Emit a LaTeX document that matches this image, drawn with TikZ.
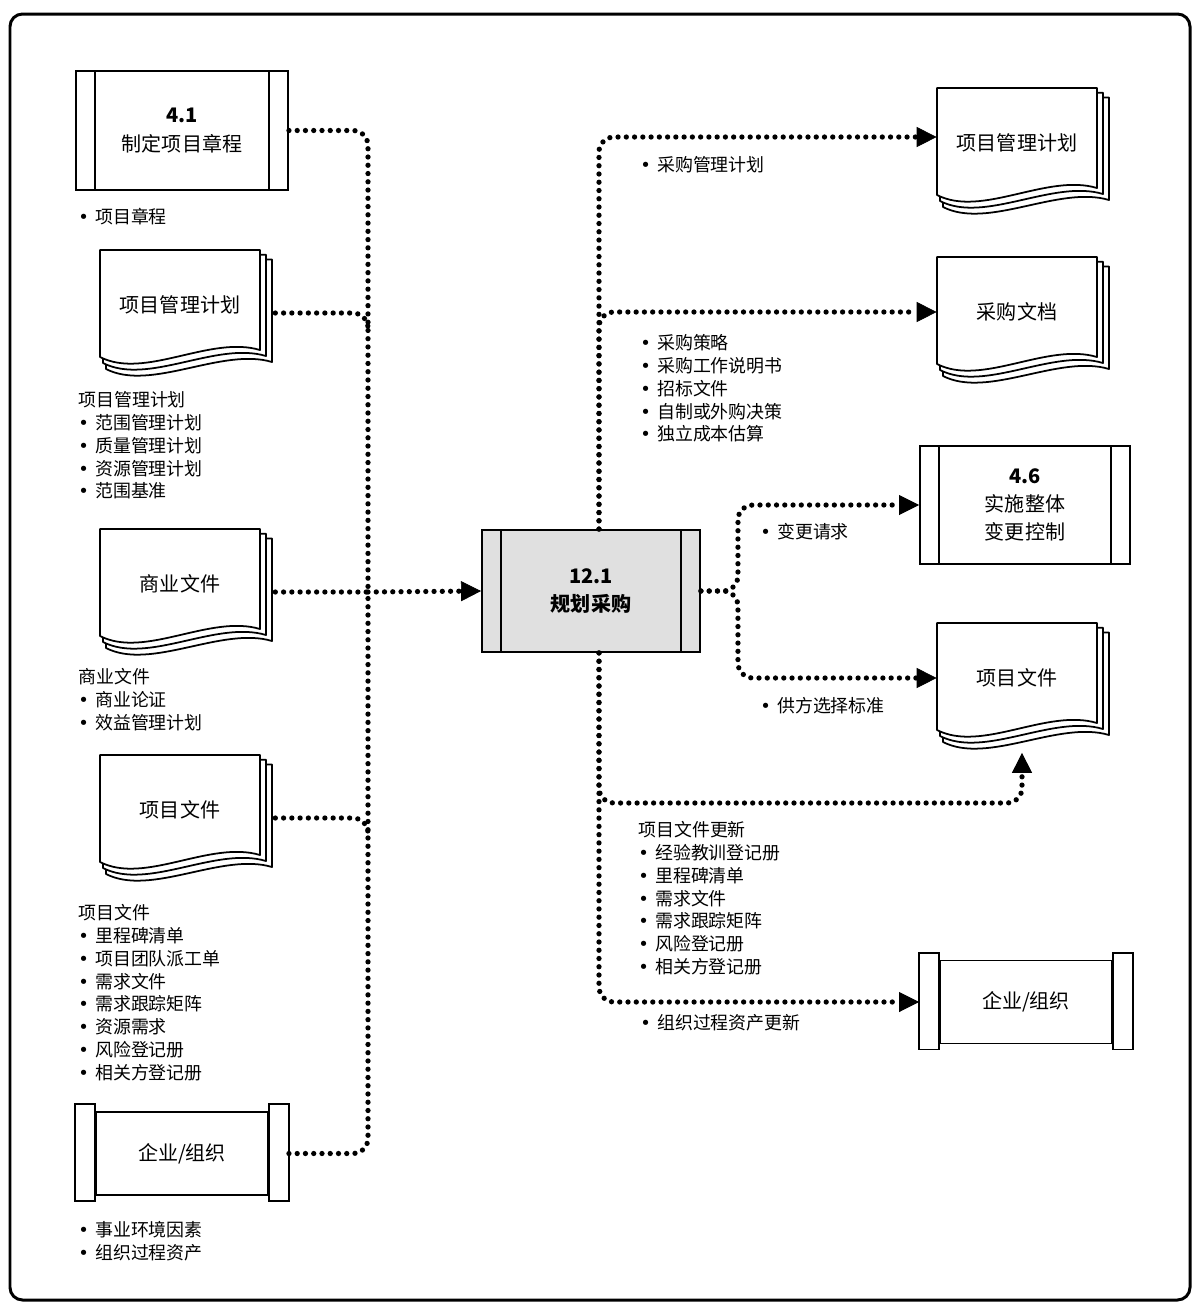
\documentclass[tikz,border=0pt]{standalone}
\usepackage{fontspec}
\setmainfont{Noto Sans CJK SC}
\newfontfamily\bulletfont{DejaVu Sans}
\usetikzlibrary{arrows.meta,calc}
\definecolor{procgray}{HTML}{E0E0E0}

\newcommand{\lbul}{{\bulletfont •}\hspace{0.35em}}

\tikzset{
  boxfont/.style={font=\fontsize{11.4pt}{16pt}\selectfont},
  listfont/.style={font=\fontsize{10.2pt}{13pt}\selectfont},
  procbox/.style={draw, line width=1.1pt, fill=white, minimum width=4.24cm,
    minimum height=2.38cm, align=center, boxfont,
    path picture={\draw[line width=1.1pt]
      ([xshift=0.38cm]path picture bounding box.north west) -- ([xshift=0.38cm]path picture bounding box.south west)
      ([xshift=-0.38cm]path picture bounding box.north east) -- ([xshift=-0.38cm]path picture bounding box.south east);}},
  docpage/.style={draw, fill=white, line width=1pt, line join=round},
  doctext/.style={minimum width=3.2cm, minimum height=2.14cm, inner sep=0pt, boxfont},
  orgmid/.style={draw, fill=white, line width=1.1pt, minimum width=3.44cm, minimum height=1.66cm, boxfont},
  orgbar/.style={draw, fill=white, line width=1.1pt},
  note/.style={anchor=north west, inner sep=0pt, align=left, listfont},
  flow/.style={line width=3pt, dash pattern=on 0pt off 4.7pt, line cap=round, rounded corners=0.3cm},
  flowarrow/.style={flow, -{Triangle[length=0.4cm, width=0.4cm, line width=0.4pt]}}
}

\newcommand{\docstack}[3]{%
  \begin{scope}[shift={(#2)}]
    \foreach \d in {12,6,0}
      \filldraw[docpage] (0.5*\d,0.8*\d) -- (160+\d,0.8*\d) -- (160+\d,100+\d)
        .. controls (110+\d,85+\d) and (45+0.5*\d,130+\d) .. (0.5*\d,107+\d) -- cycle;
  \end{scope}
  \node[doctext] (#1) at ($(#2)+(80,55)$) {#3};
}

\newcommand{\orgstack}[3]{%
  \node[orgmid] (#1) at (#2) {#3};
  \draw[orgbar] ([xshift=-0.4cm,yshift=0.14cm]#1.north west) rectangle ([yshift=-0.1cm]#1.south west);
  \draw[orgbar] ([yshift=0.14cm]#1.north east) rectangle ([xshift=0.4cm,yshift=-0.1cm]#1.south east);
}

\begin{document}
\begin{tikzpicture}[x=0.02cm, y=-0.02cm]

  \useasboundingbox (0,0) rectangle (1202,1306);
  \draw[line width=1.7pt, rounded corners=0.25cm] (10,14) rectangle (1190,1300);

  \node[procbox] (charter) at (182,130.5) {\textbf{4.1}\\制定项目章程};
  \node[note] (charterlbl) at (78,208) {\lbul 项目章程};

  \docstack{pmpin}{100,250}{项目管理计划}
  \node[note] (pmpinlbl) at (78,391) {项目管理计划\\\lbul 范围管理计划\\\lbul 质量管理计划\\\lbul 资源管理计划\\\lbul 范围基准};

  \docstack{bizdoc}{100,529}{商业文件}
  \node[note] (bizdoclbl) at (78,668) {商业文件\\\lbul 商业论证\\\lbul 效益管理计划};

  \docstack{projdocin}{100,755}{项目文件}
  \node[note] (projdocinlbl) at (78,904) {项目文件\\\lbul 里程碑清单\\\lbul 项目团队派工单\\\lbul 需求文件\\\lbul 需求跟踪矩阵\\\lbul 资源需求\\\lbul 风险登记册\\\lbul 相关方登记册};

  \orgstack{eefin}{182,1153.5}{企业/组织}
  \node[note] (eefinlbl) at (78,1221) {\lbul 事业环境因素\\\lbul 组织过程资产};

  \node[procbox, fill=procgray, minimum width=4.36cm, minimum height=2.44cm,
    font=\fontsize{11.4pt}{16.4pt}\selectfont] (plan) at (591,591) {\textbf{12.1}\\\textbf{规划采购}};

  \docstack{pmpout}{937,88}{项目管理计划}
  \node[note] (pmpoutlbl) at (640,156) {\lbul 采购管理计划};

  \docstack{procdocs}{937,257}{采购文档}
  \node[note] (procdocslbl) at (640,334) {\lbul 采购策略\\\lbul 采购工作说明书\\\lbul 招标文件\\\lbul 自制或外购决策\\\lbul 独立成本估算};

  \node[procbox, minimum width=4.2cm, minimum height=2.36cm] (change) at (1025,505) {\textbf{4.6}\\实施整体\\变更控制};
  \node[note] (changelbl) at (760,523) {\lbul 变更请求};

  \docstack{projdocout}{937,623}{项目文件}
  \node[note] (projdocoutlbl) at (760,697) {\lbul 供方选择标准};
  \node[note] (updlbl) at (638,821) {项目文件更新\\\lbul 经验教训登记册\\\lbul 里程碑清单\\\lbul 需求文件\\\lbul 需求跟踪矩阵\\\lbul 风险登记册\\\lbul 相关方登记册};

  \orgstack{eefout}{1026,1002}{企业/组织}
  \node[note] (eefoutlbl) at (640,1014) {\lbul 组织过程资产更新};

  \coordinate (bus) at (368,592);
  \coordinate (pmpj) at (bus |- pmpin.east);
  \coordinate (projdocj) at (bus |- projdocin.east);
  \draw[flow] (charter.east) -| (bus);
  \draw[flow] ([xshift=0.3cm,yshift=-0.16cm]pmpin.east) -| ([yshift=-0.5cm]pmpj);
  \draw[flow] ([xshift=0.3cm,yshift=-0.16cm]bizdoc.east) -- (bus);
  \draw[flow] ([xshift=0.3cm,yshift=-0.16cm]projdocin.east) -| ([yshift=-0.5cm]projdocj);
  \draw[flow] ([xshift=0.4cm]eefin.east) -| (bus);
  \draw[flowarrow] (bus) -- (plan.west);

  \coordinate (split) at ($(plan.east)+(37,0)$);
  \coordinate (upd) at (1022,803);
  \draw[flowarrow] ([xshift=0.16cm]plan.north) |- ([yshift=0.12cm]pmpout.west);
  \draw[flowarrow] ([xshift=0.16cm]plan.north) |- (procdocs.west);
  \draw[flowarrow] (plan.east) -- (split) |- (change.west);
  \draw[flowarrow] (plan.east) -- (split) |- (projdocout.west);
  \draw[flowarrow] ([xshift=0.16cm]plan.south) |- (upd) -- ([xshift=0.1cm,yshift=-0.42cm]projdocout.south);
  \draw[flowarrow] ([xshift=0.16cm]plan.south) |- ([xshift=-0.4cm]eefout.west);

\end{tikzpicture}
\end{document}
